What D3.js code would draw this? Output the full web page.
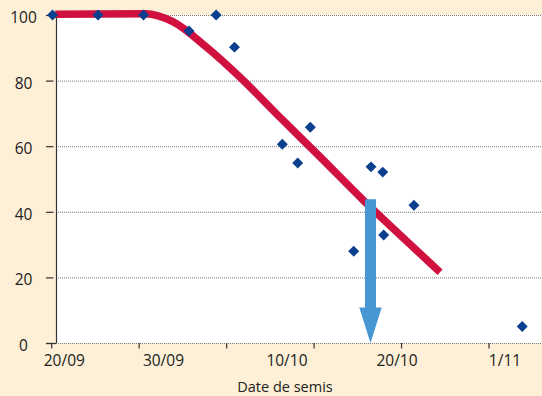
<!DOCTYPE html>
<html>
<head>
<meta charset="utf-8">
<script src="https://cdn.jsdelivr.net/npm/d3@7"></script>
<style>
  html, body { margin: 0; padding: 0; background: #fdf0d6; }
  svg { display: block; }
  text { font-family: "Open Sans", "Noto Sans", sans-serif; fill: #222; }
</style>
</head>
<body>
<svg id="chart" width="542" height="396"></svg>
<script>
// ---- data ----
const xTicks = [0, 1, 2, 3, 4, 5];
const xLabels = ["20/09", "30/09", "10/10", "20/10", "1/11"];
const xLabelPos = [0.144, 1.278, 2.69, 3.948, 5.183];
const yTicks = [0, 20, 40, 60, 80, 100];
const xTitle = "Date de semis";

const pointX = [0.01, 0.53, 1.05, 1.57, 1.88, 2.09, 2.637, 2.813, 2.957, 3.453, 3.651, 3.785, 3.796, 4.142, 5.38];
const pointY = [100, 100, 100, 95.1, 100, 90.2, 60.6, 54.9, 65.8, 28.0, 53.7, 52.1, 32.9, 42.0, 5.0];

const curveX = [0.04, 1.07, 1.39, 1.77, 2.15, 2.64, 3.07, 3.56, 3.98, 4.44];
const curveY = [100.2, 100.4, 97.9, 90.2, 81.1, 68.0, 56.7, 43.6, 33.0, 21.6];

const arrowX = 3.645;
const arrowFrom = 43.8;
const arrowTo = 0;

// ---- chart ----
const svg = d3.select("#chart");
const x = d3.scaleLinear().domain([0, 5]).range([51.7, 489]);
const y = d3.scaleLinear().domain([0, 100]).range([343, 15]);
const plotLeft = 56, plotRight = 541;

// plot background
svg.append("rect")
  .attr("x", plotLeft).attr("y", y(100))
  .attr("width", plotRight - plotLeft).attr("height", y(0) - y(100))
  .attr("fill", "#ffffff");

// dotted gridlines
svg.append("g").selectAll("line").data(yTicks).join("line")
  .attr("x1", plotLeft).attr("x2", plotRight)
  .attr("y1", d => y(d) + 0.5).attr("y2", d => y(d) + 0.5)
  .attr("stroke", "#7a7a7a").attr("stroke-width", 1)
  .attr("stroke-dasharray", "1,1");

// y axis line
svg.append("line")
  .attr("x1", plotLeft + 0.5).attr("x2", plotLeft + 0.5)
  .attr("y1", y(100)).attr("y2", y(0))
  .attr("stroke", "#333").attr("stroke-width", 1.2);

// y ticks and labels
const yg = svg.append("g");
yg.selectAll("line").data(yTicks).join("line")
  .attr("x1", 46).attr("x2", 53.5)
  .attr("y1", d => y(d) + 0.5).attr("y2", d => y(d) + 0.5)
  .attr("stroke", "#333").attr("stroke-width", 1.2);
yg.selectAll("text").data(yTicks).join("text")
  .attr("x", 23.5).attr("y", d => y(d) + 8)
  .attr("text-anchor", "middle")
  .attr("font-size", 15.5)
  .text(d => d);

// x axis ticks
const xg = svg.append("g");
xg.append("line")
  .attr("x1", 46).attr("x2", plotLeft)
  .attr("y1", y(0) + 0.5).attr("y2", y(0) + 0.5)
  .attr("stroke", "#333").attr("stroke-width", 1.2);
xg.selectAll("line.tick").data(xTicks).join("line")
  .attr("class", "tick")
  .attr("x1", d => x(d)).attr("x2", d => x(d))
  .attr("y1", y(0)).attr("y2", y(0) + 5.5)
  .attr("stroke", "#333").attr("stroke-width", 1.2);
xg.selectAll("text").data(xLabels).join("text")
  .attr("x", (d, i) => x(xLabelPos[i]))
  .attr("y", 366)
  .attr("text-anchor", "middle")
  .attr("font-size", 15.5)
  .text(d => d);

svg.append("text")
  .attr("x", 285).attr("y", 392)
  .attr("text-anchor", "middle")
  .attr("font-size", 14.5)
  .text(xTitle);

// fitted curve
const curveData = curveX.map((v, i) => [v, curveY[i]]);
svg.append("path")
  .datum(curveData)
  .attr("d", d3.line().x(d => x(d[0])).y(d => y(d[1])).curve(d3.curveMonotoneX))
  .attr("fill", "none")
  .attr("stroke", "#d01140")
  .attr("stroke-width", 7.5)
  .attr("stroke-linejoin", "round");

// arrow
const ax = x(arrowX);
const shaftTop = y(arrowFrom);
const tip = y(arrowTo);
const headLen = 35.5, shaftHalf = 5.5, headHalf = 11.2;
svg.append("path")
  .attr("d", `M${ax - shaftHalf},${shaftTop} L${ax + shaftHalf},${shaftTop} L${ax + shaftHalf},${tip - headLen} L${ax + headHalf},${tip - headLen} L${ax},${tip} L${ax - headHalf},${tip - headLen} L${ax - shaftHalf},${tip - headLen} Z`)
  .attr("fill", "#4797d3");

// points
const pts = pointX.map((v, i) => [v, pointY[i]]);
svg.append("g").selectAll("path").data(pts).join("path")
  .attr("d", d3.symbol().type(d3.symbolSquare).size(60))
  .attr("transform", d => `translate(${x(d[0])},${y(d[1])}) rotate(45)`)
  .attr("fill", "#0a3e8e");
</script>
</body>
</html>
